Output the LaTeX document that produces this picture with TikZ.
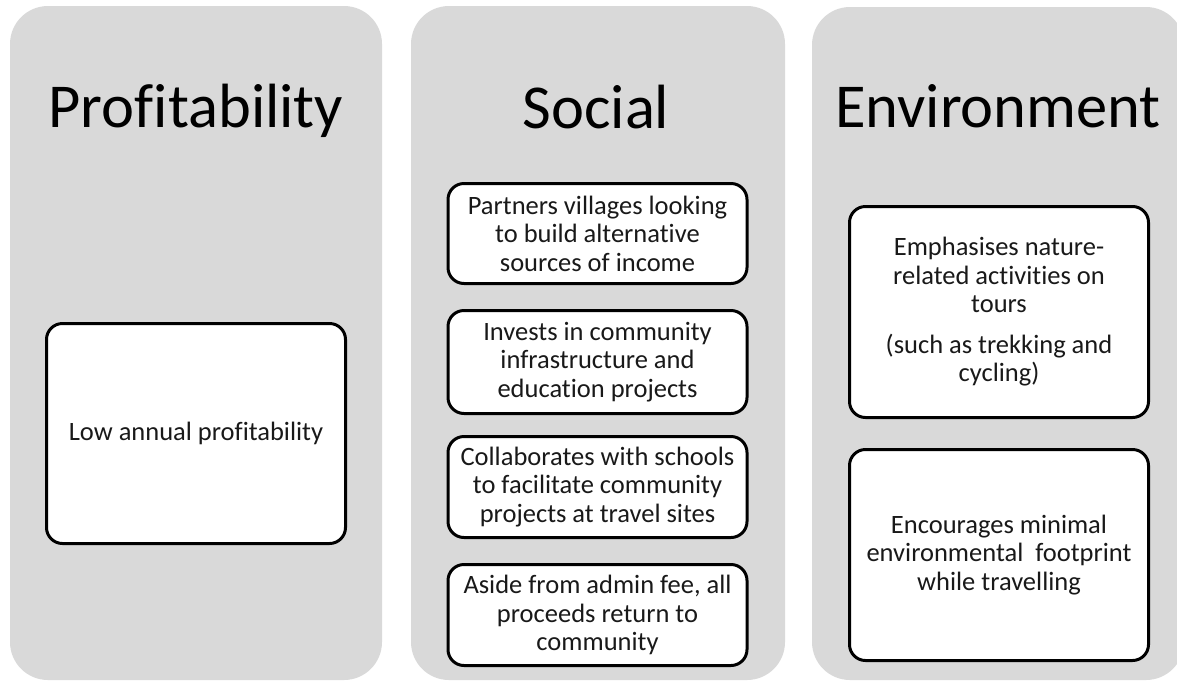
\documentclass[tikz,border=0pt]{standalone}
\usepackage{fontspec}
\setmainfont{Carlito}[Ligatures={NoCommon}]
\definecolor{panelgray}{HTML}{D9D9D9}
\tikzset{
  panel/.style={fill=panelgray, draw=none, rounded corners=38pt},
  title/.style={anchor=base, font=\fontsize{62.5}{75}\selectfont, text=black, inner sep=0pt},
  itembox/.style={draw=black, line width=3pt, fill=white, rounded corners=16pt, align=center,
    font=\fontsize{26.5}{28.5}\selectfont, text=black!90, inner sep=0pt, minimum width=299pt},
}
\begin{document}
\begin{tikzpicture}[x=1pt,y=-1pt]
\useasboundingbox (0,0) rectangle (1177,681);
\clip (0,0) rectangle (1177,681);
% panels
\path[panel] (10,6) rectangle (382,680);
\path[panel] (411,6) rectangle (785,680);
\path[panel] (812,7) rectangle (1184,680);
% titles
\node[title] (tprof) at (196,127) {Profitability};
\node[title] (tsoc) at (596,128) {Social};
\node[title] (tenv) at (998,127) {Environment};
% profitability box
\node[itembox, minimum height=220pt] (low) at (196,433.5) {Low annual profitability};
% social boxes
\node[itembox, minimum height=100pt] (s1) at (597.5,233.5) {Partners villages looking\\to build alternative\\sources of income};
\node[itembox, minimum height=103pt] (s2) at (597.5,362) {Invests in community\\infrastructure and\\education projects};
\node[itembox, minimum height=101pt] (s3) at (597.5,487) {Collaborates with schools\\to facilitate community\\projects at travel sites};
\node[itembox, minimum height=101pt] (s4) at (597.5,615) {Aside from admin fee, all\\proceeds return to\\community};
% environment boxes
\node[itembox, minimum height=211pt] (e1) at (999,312) {Emphasises nature-\\related activities on\\tours\\[12pt](such as trekking and\\cycling)};
\node[itembox, minimum height=211pt] (e2) at (999,555) {Encourages minimal\\environmental~ footprint\\while travelling};
\end{tikzpicture}
\end{document}
